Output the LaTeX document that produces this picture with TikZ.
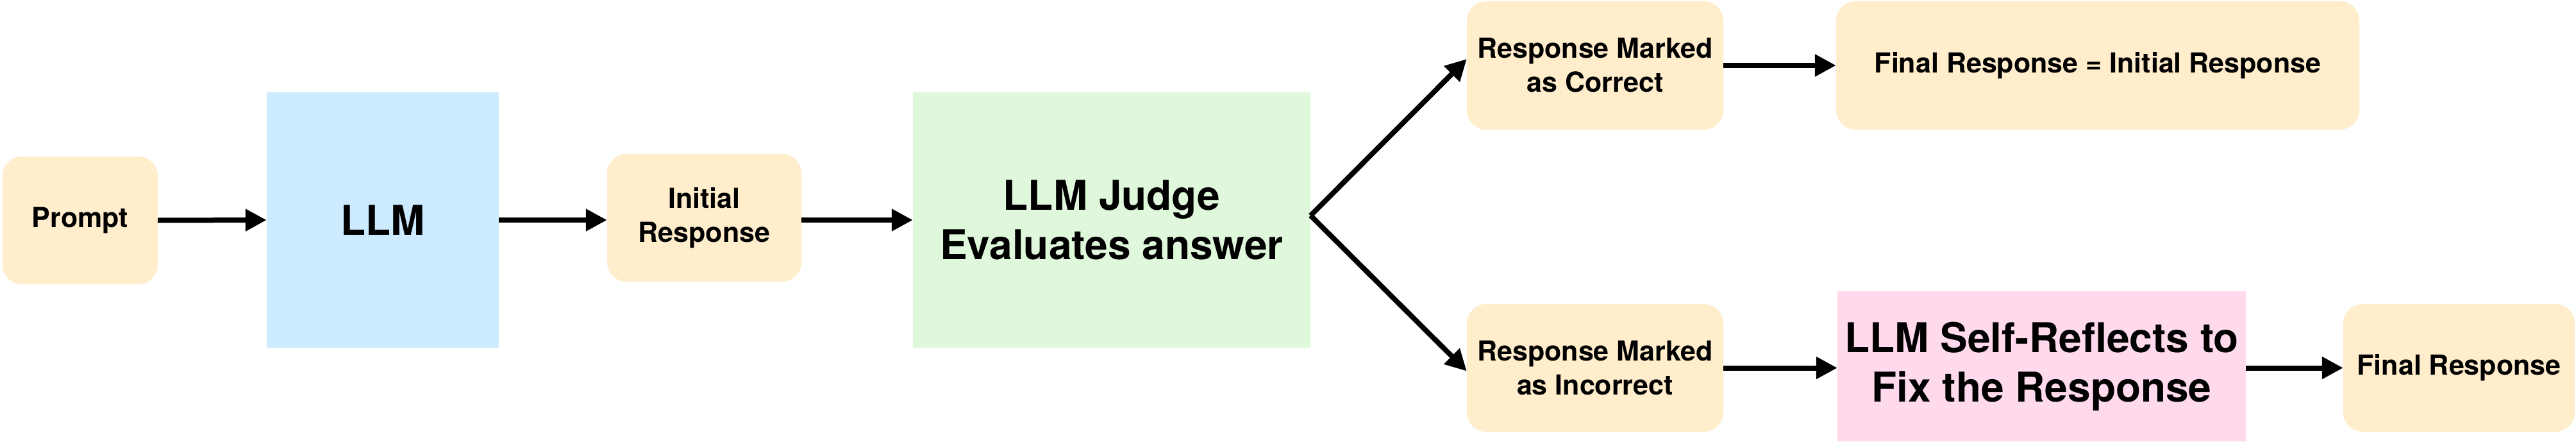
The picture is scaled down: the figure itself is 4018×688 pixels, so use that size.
\documentclass[tikz,border=0pt]{standalone}
\usepackage{fontspec}
\setmainfont{TeX Gyre Heros}
\usetikzlibrary{arrows.meta,calc}
\definecolor{orangefill}{HTML}{FFEDCC}
\definecolor{bluefill}{HTML}{CCEBFF}
\definecolor{greenfill}{HTML}{DFF7DA}
\definecolor{pinkfill}{HTML}{FFD9EC}
\begin{document}
\begin{tikzpicture}[x=1pt,y=-1pt,
  box/.style={rectangle,inner sep=0pt,align=center,draw=none},
  softbox/.style={box,fill=orangefill,rounded corners=30pt,
    font=\fontsize{43}{53}\selectfont\bfseries},
  bigbox/.style={box,font=\fontsize{64}{77}\selectfont\bfseries},
  flow/.style={line width=8pt,-{Triangle[length=33pt,width=33pt]}}]
\useasboundingbox (0,0) rectangle (4018,688);
\node[softbox,minimum width=242pt,minimum height=199pt] (prompt) at (125,343.5) {Prompt};
\node[bigbox,fill=bluefill,minimum width=362pt,minimum height=398pt] (llm) at (597,343) {LLM};
\node[softbox,minimum width=303pt,minimum height=199pt] (init) at (1098.5,339.5) {Initial\\Response};
\node[bigbox,fill=greenfill,minimum width=620pt,minimum height=398pt] (judge) at (1734,343) {LLM Judge\\Evaluates answer};
\node[softbox,minimum width=400pt,minimum height=200pt] (correct) at (2488,102) {Response Marked\\as Correct};
\node[softbox,minimum width=400pt,minimum height=199pt] (incorrect) at (2488,573.5) {Response Marked\\as Incorrect};
\node[softbox,minimum width=816pt,minimum height=200pt] (final1) at (3272,102) {Final Response = Initial Response};
\node[bigbox,fill=pinkfill,minimum width=637pt,minimum height=234pt] (fix) at (3184.5,571) {LLM Self-Reflects to\\Fix the Response};
\node[softbox,minimum width=361pt,minimum height=199pt] (final2) at (3835.5,573.5) {Final Response};
\coordinate (fork) at ($(judge.east)+(0,-7)$);
\coordinate (tipc) at ($(correct.west)+(0,-10)$);
\coordinate (tipi) at ($(incorrect.west)+(0,5)$);
\draw[flow] (prompt.east) -- (llm.west);
\draw[flow] (llm.east) -- (llm.east -| init.west);
\draw[flow] (judge.west -| init.east) -- (judge.west);
\draw[flow] (fork) -- (tipc);
\draw[flow] (fork) -- (tipi);
\draw[flow] (correct.east) -- (final1.west);
\draw[flow] (incorrect.east) -- (incorrect.east -| fix.west);
\draw[flow] (final2.west -| fix.east) -- (final2.west);
\end{tikzpicture}
\end{document}
